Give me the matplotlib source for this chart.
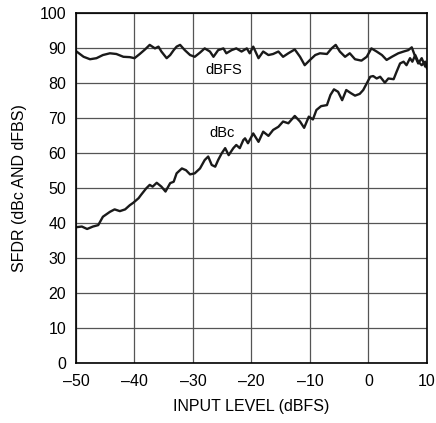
import matplotlib
matplotlib.use("Agg")
import matplotlib.pyplot as plt
from matplotlib import font_manager

names = {f.name for f in font_manager.fontManager.ttflist}
fam = ['Liberation Sans Narrow', 'Liberation Sans', 'DejaVu Sans']
fam = [f for f in fam if f in names] or ['DejaVu Sans']
plt.rcParams['font.family'] = fam

# dBFS series
dbfs_x = [-50, -49.9, -48.7, -47.6, -46.5, -45.4, -44.2, -43.1, -41.9, -40.8, -40, -39.1, -38.2,
          -37.4, -36.5, -35.9, -35.4, -34.5, -33.9, -33.3, -32.8, -32.2, -31.4, -30.5, -29.7,
          -28.8, -28, -27.1, -26.5, -25.7, -24.8, -24.3, -23.4, -22.6, -21.7, -20.8, -20.3,
          -19.7, -18.8, -18, -17.1, -16.3, -15.4, -14.6, -13.7, -12.6, -11.7, -10.9, -10,
          -9.1, -8.3, -7.1, -6.3, -5.6, -4.9, -4, -3.2, -2.3, -1.2, -0.3, 0.5, 1.4, 2.3, 3.1,
          4.0, 5.1, 6.0, 6.8, 7.4, 8.0, 8.5, 9.1, 9.7, 10]
dbfs_y = [89.0, 88.9, 87.4, 86.7, 87.0, 87.9, 88.4, 88.2, 87.4, 87.3, 87.0, 88.2, 89.5,
          90.8, 89.8, 90.3, 88.9, 87.0, 87.9, 89.3, 90.3, 90.8, 89.3, 87.9, 87.4,
          88.6, 89.8, 88.9, 87.4, 89.3, 89.8, 88.4, 89.3, 89.8, 88.9, 89.8, 88.4,
          90.3, 87.0, 88.9, 87.9, 88.2, 88.9, 87.4, 88.4, 89.5, 87.4, 85.0, 86.5,
          87.9, 88.4, 88.2, 89.8, 90.8, 88.9, 87.4, 88.4, 86.7, 86.3, 87.4, 89.8, 88.9, 87.9, 86.5,
          87.4, 88.4, 88.9, 89.3, 90.1, 87.4, 85.5, 87.0, 84.6, 85.0]

# dBc series
dbc_x = [-50, -49.0, -48.1, -47.1, -46.2, -45.4, -44.2, -43.4, -42.5, -41.6, -40.8, -40.2,
         -39.3, -38.9, -38.0, -37.4, -36.9, -36.2, -35.4, -34.7, -33.9, -33.3, -32.8, -31.9,
         -31.2, -30.5, -29.7, -28.8, -28.0, -27.4, -26.8, -26.2, -25.7, -25.1, -24.5, -23.9,
         -23.1, -22.6, -22.0, -21.4, -21.1, -20.6, -19.7, -18.8, -18.0, -17.1, -16.3, -15.4,
         -14.6, -13.7, -12.6, -11.7, -11.0, -10.2, -9.5, -8.9, -8.1, -7.1, -6.5, -5.9, -5.2,
         -4.5, -3.8, -3.0, -2.3, -1.5, -0.9, -0.3, 0.3, 0.8, 1.4, 2.0, 2.8, 3.4, 4.3, 4.8,
         5.4, 6.0, 6.5, 7.1, 7.5, 8.0, 8.5, 9.1, 9.7, 10]
dbc_y = [38.7, 38.9, 38.2, 38.9, 39.3, 41.7, 43.1, 43.8, 43.3, 43.8, 45.0, 45.7,
         47.0, 47.9, 49.8, 50.8, 50.3, 51.4, 50.3, 48.9, 51.3, 51.7, 54.1, 55.5,
         55.0, 53.8, 54.1, 55.5, 57.9, 58.9, 56.5, 56.0, 57.9, 59.8, 61.3, 59.3,
         61.3, 62.2, 61.3, 63.6, 64.1, 62.7, 65.5, 63.1, 66.0, 64.8, 66.5, 67.4,
         68.9, 68.4, 70.5, 68.9, 67.1, 70.3, 69.5, 72.2, 73.3, 73.6, 76.5, 78.1, 77.4,
         75.0, 77.9, 77.0, 76.3, 76.8, 77.9, 79.8, 81.7, 81.9, 81.2, 81.7, 80.0, 81.2, 81.0, 83.1,
         85.5, 86.0, 85.0, 87.0, 86.0, 87.9, 86.0, 85.0, 86.0, 84.1]

xticks = [-50, -40, -30, -20, -10, 0, 10]
yticks = [0, 10, 20, 30, 40, 50, 60, 70, 80, 90, 100]

fig = plt.figure(figsize=(4.36, 4.23), dpi=100)
ax = fig.add_axes([0.1743, 0.1426, 0.8050, 0.8274])
ax.set_xlim(-50, 10)
ax.set_ylim(0, 100)
ax.set_xticks(xticks)
ax.set_yticks(yticks)
ax.set_xticklabels([('\u2013' + str(-t)) if t < 0 else str(t) for t in xticks])
ax.grid(True, color='#555555', linewidth=0.9)
ax.set_axisbelow(True)
ax.tick_params(length=0, labelsize=11.5)
ax.tick_params(axis='x', pad=8)
ax.tick_params(axis='y', pad=7)
for s in ax.spines.values():
    s.set_linewidth(1.2)
    s.set_color('black')

ax.plot(dbfs_x, dbfs_y, color='#1a1a1a', linewidth=1.7, solid_joinstyle='round')
ax.plot(dbc_x, dbc_y, color='#1a1a1a', linewidth=1.7, solid_joinstyle='round')

ax.text(-24.7, 83.5, 'dBFS', ha='center', va='center', fontsize=10.5)
ax.text(-25, 65.6, 'dBc', ha='center', va='center', fontsize=10.5)

ax.set_xlabel('INPUT LEVEL (dBFS)', fontsize=11.5, labelpad=7)
ax.set_ylabel('SFDR (dBc AND dFBS)', fontsize=11.5, labelpad=9)

fig.savefig('out.png', dpi=100)
